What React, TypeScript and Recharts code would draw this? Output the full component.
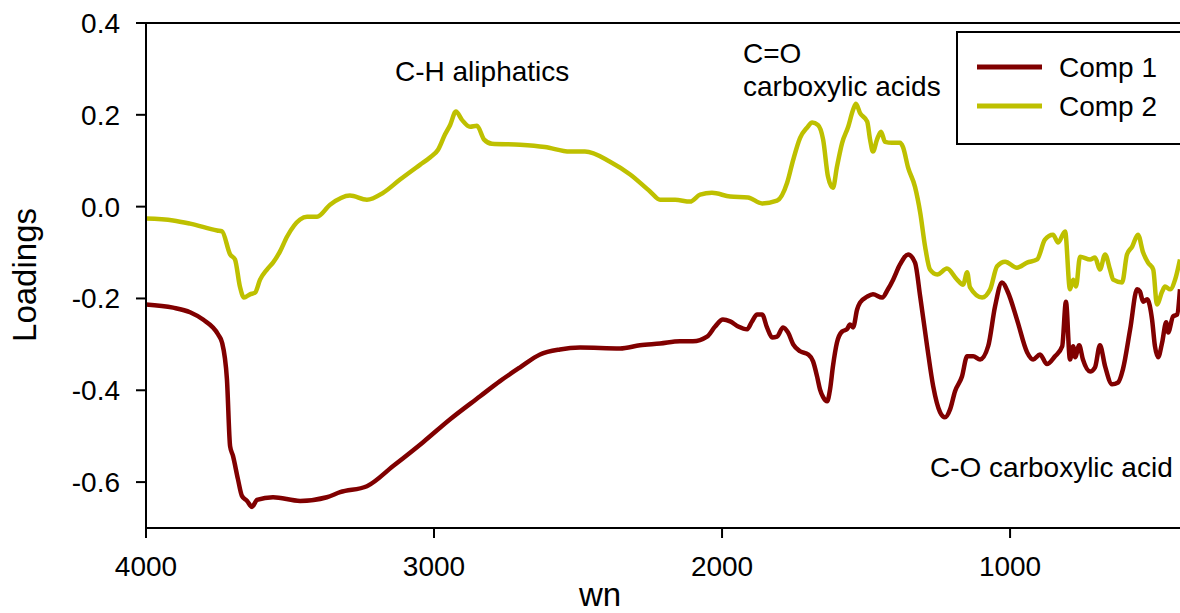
import React from 'react';
import { LineChart, Line, XAxis, YAxis, ReferenceLine, Legend } from 'recharts';

// Wavenumbers (cm-1) and loadings
const wnComp1 = [4000, 3906, 3847, 3802, 3750, 3736, 3719, 3708, 3698, 3681, 3667, 3649, 3632, 3615, 3559, 3465, 3372, 3326, 3233, 3142, 3038, 2944, 2840, 2771, 2701, 2632, 2563, 2493, 2354, 2285, 2215, 2146, 2101, 2052, 2024, 1997, 1972, 1944, 1913, 1896, 1878, 1861, 1844, 1826, 1809, 1788, 1771, 1753, 1729, 1701, 1684, 1670, 1660, 1649, 1635, 1625, 1615, 1601, 1583, 1566, 1556, 1545, 1531, 1521, 1496, 1476, 1444, 1424, 1406, 1382, 1354, 1330, 1312, 1288, 1267, 1243, 1226, 1208, 1191, 1167, 1149, 1128, 1104, 1076, 1052, 1028, 1007, 976, 941, 920, 896, 872, 844, 819, 806, 792, 781, 774, 760, 747, 722, 705, 688, 670, 646, 625, 608, 583, 559, 549, 538, 524, 507, 497, 486, 472, 458, 451, 434, 420, 410];
const comp1 = [-0.213, -0.220, -0.230, -0.246, -0.278, -0.296, -0.376, -0.522, -0.543, -0.593, -0.630, -0.641, -0.654, -0.639, -0.633, -0.641, -0.633, -0.622, -0.609, -0.565, -0.513, -0.463, -0.413, -0.380, -0.350, -0.322, -0.311, -0.307, -0.309, -0.302, -0.298, -0.293, -0.293, -0.283, -0.261, -0.246, -0.250, -0.261, -0.267, -0.250, -0.235, -0.235, -0.263, -0.285, -0.283, -0.263, -0.274, -0.300, -0.315, -0.322, -0.337, -0.370, -0.398, -0.415, -0.424, -0.398, -0.348, -0.296, -0.272, -0.267, -0.257, -0.263, -0.224, -0.209, -0.196, -0.191, -0.198, -0.180, -0.159, -0.126, -0.104, -0.122, -0.196, -0.304, -0.391, -0.448, -0.459, -0.441, -0.402, -0.370, -0.326, -0.326, -0.333, -0.304, -0.217, -0.165, -0.187, -0.246, -0.317, -0.333, -0.322, -0.343, -0.326, -0.304, -0.207, -0.333, -0.304, -0.328, -0.302, -0.333, -0.359, -0.350, -0.302, -0.348, -0.387, -0.383, -0.354, -0.267, -0.180, -0.185, -0.207, -0.202, -0.246, -0.304, -0.328, -0.296, -0.252, -0.274, -0.239, -0.235, -0.180];

const wnComp2 = [4000, 3906, 3847, 3753, 3736, 3708, 3691, 3674, 3660, 3639, 3621, 3604, 3580, 3559, 3535, 3510, 3465, 3441, 3406, 3361, 3292, 3233, 3177, 3118, 3049, 3014, 2986, 2962, 2944, 2924, 2903, 2875, 2851, 2826, 2799, 2701, 2615, 2528, 2476, 2389, 2319, 2250, 2215, 2163, 2111, 2076, 2035, 1972, 1910, 1861, 1809, 1774, 1753, 1729, 1705, 1687, 1667, 1649, 1632, 1615, 1601, 1583, 1562, 1545, 1535, 1521, 1496, 1486, 1476, 1462, 1448, 1434, 1410, 1382, 1372, 1354, 1330, 1312, 1295, 1278, 1253, 1219, 1184, 1163, 1149, 1139, 1097, 1069, 1045, 1017, 976, 941, 906, 879, 851, 833, 809, 792, 781, 771, 757, 722, 705, 688, 670, 653, 642, 611, 594, 576, 556, 538, 521, 503, 490, 472, 462, 444, 427, 410];
const comp2 = [-0.026, -0.030, -0.037, -0.052, -0.054, -0.104, -0.115, -0.174, -0.198, -0.191, -0.187, -0.159, -0.137, -0.122, -0.098, -0.065, -0.028, -0.022, -0.022, 0.004, 0.024, 0.015, 0.030, 0.059, 0.091, 0.107, 0.124, 0.157, 0.178, 0.207, 0.189, 0.174, 0.176, 0.146, 0.137, 0.135, 0.130, 0.120, 0.120, 0.098, 0.070, 0.033, 0.015, 0.015, 0.011, 0.026, 0.030, 0.022, 0.020, 0.007, 0.013, 0.052, 0.102, 0.150, 0.172, 0.183, 0.178, 0.146, 0.065, 0.041, 0.087, 0.139, 0.174, 0.211, 0.224, 0.204, 0.185, 0.146, 0.120, 0.146, 0.163, 0.141, 0.139, 0.139, 0.130, 0.085, 0.043, -0.013, -0.087, -0.137, -0.148, -0.135, -0.159, -0.170, -0.143, -0.176, -0.198, -0.180, -0.130, -0.120, -0.133, -0.122, -0.115, -0.072, -0.061, -0.078, -0.054, -0.180, -0.159, -0.174, -0.109, -0.115, -0.111, -0.137, -0.104, -0.137, -0.159, -0.165, -0.104, -0.087, -0.061, -0.100, -0.122, -0.137, -0.213, -0.185, -0.174, -0.180, -0.159, -0.115];

const xTicks = [4000, 3000, 2000, 1000];
const yTicks = [-0.6, -0.4, -0.2, 0, 0.2, 0.4];
const seriesNames = ['Comp 1', 'Comp 2'];
const seriesColors = ['#800000', '#BEC000'];

const data1 = wnComp1.map((wn, i) => ({ wn, y: comp1[i] }));
const data2 = wnComp2.map((wn, i) => ({ wn, y: comp2[i] }));

const FONT = '"Liberation Sans", Arial, Helvetica, sans-serif';

const renderLegend = (props: any) => {
  const payload = (props.payload || []).filter((p: any) => p.type !== 'none');
  return (
    <svg width={240} height={114} style={{ display: 'block' }}>
      <rect x={1} y={1} width={238} height={112} fill="#fff" stroke="#000" strokeWidth={2} />
      {payload.map((p: any, i: number) => (
        <g key={i}>
          <line x1={21} x2={86} y1={36 + i * 39} y2={36 + i * 39} stroke={p.color} strokeWidth={5} />
          <text x={103} y={46 + i * 39} fontSize={28} fontFamily={FONT} fill="#000">
            {p.value}
          </text>
        </g>
      ))}
    </svg>
  );
};

export default function App() {
  const tickStyle = { fontSize: 28, fontFamily: FONT, fill: '#000' };
  return (
    <div style={{ position: 'absolute', left: 0, top: 0, width: 1180, height: 613, overflow: 'hidden', background: '#fff' }}>
      <LineChart width={1180} height={613} margin={{ top: 23, right: 0, bottom: 0, left: 86 }}>
        <XAxis
          type="number"
          dataKey="wn"
          domain={[410, 4000]}
          reversed
          allowDataOverflow
          ticks={xTicks}
          height={85}
          tick={tickStyle}
          tickSize={10}
          tickMargin={18}
          axisLine={{ stroke: '#000', strokeWidth: 2 }}
          tickLine={{ stroke: '#000', strokeWidth: 2 }}
        />
        <YAxis
          type="number"
          domain={[-0.7, 0.4]}
          allowDataOverflow
          ticks={yTicks}
          width={60}
          tick={tickStyle}
          tickSize={10}
          tickMargin={16}
          tickFormatter={(v: number) => v.toFixed(1)}
          axisLine={{ stroke: '#000', strokeWidth: 2 }}
          tickLine={{ stroke: '#000', strokeWidth: 2 }}
        />
        <ReferenceLine y={0.4} stroke="#000" strokeWidth={2} />
        <Line
          data={data1}
          dataKey="y"
          name={seriesNames[0]}
          stroke={seriesColors[0]}
          strokeWidth={4.5}
          dot={false}
          type="monotone"
          isAnimationActive={false}
        />
        <Line
          data={data2}
          dataKey="y"
          name={seriesNames[1]}
          stroke={seriesColors[1]}
          strokeWidth={4.5}
          dot={false}
          type="monotone"
          isAnimationActive={false}
        />
        <Legend
          layout="vertical"
          align="center"
          verticalAlign="middle"
          content={renderLegend}
          wrapperStyle={{ left: 956, top: 31, width: 240, height: 114 }}
        />
      </LineChart>
      <svg width={1180} height={613} style={{ position: 'absolute', left: 0, top: 0, pointerEvents: 'none' }}>
        <g fontFamily={FONT} fill="#000">
          <text x={395} y={81} fontSize={28}>C-H aliphatics</text>
          <text x={743} y={63} fontSize={28}>C=O</text>
          <text x={743} y={96} fontSize={28}>carboxylic acids</text>
          <text x={930} y={477} fontSize={28}>C-O carboxylic acid</text>
          <text x={36} y={275} fontSize={33} textAnchor="middle" transform="rotate(-90 36 275)">Loadings</text>
          <text x={600} y={606} fontSize={33} textAnchor="middle">wn</text>
        </g>
      </svg>
    </div>
  );
}
